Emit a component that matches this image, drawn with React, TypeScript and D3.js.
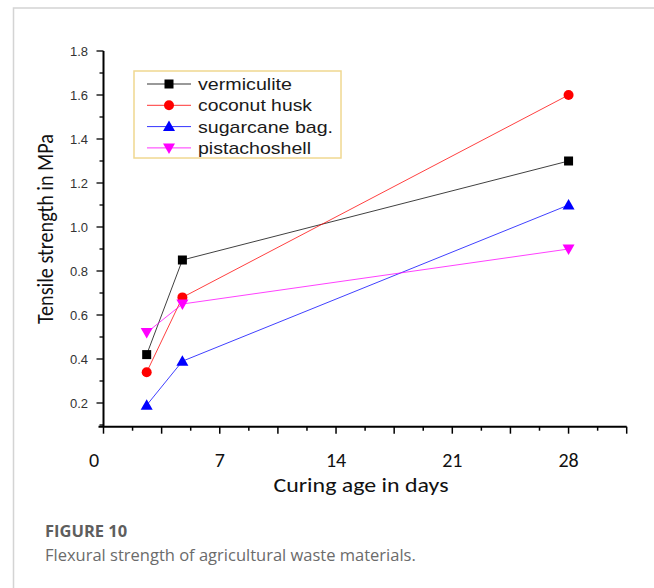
import React from "react";
import * as d3 from "d3";

const W = 654;
const H = 588;

// Curing ages (days) and strengths (MPa) for each material
const days = [2.6, 4.75, 28];
const vermiculite = [0.42, 0.85, 1.3];
const coconutHusk = [0.34, 0.68, 1.6];
const sugarcaneBag = [0.19, 0.39, 1.1];
const pistachioShell = [0.52, 0.65, 0.9];

const seriesNames = ["vermiculite", "coconut husk", "sugarcane bag.", "pistachoshell"];
const seriesColors = ["#000000", "#ff0000", "#0000ff", "#ff00ff"];
const seriesMarkers = ["square", "circle", "triangle", "triangleDown"];

const xTickLabels = [0, 7, 14, 21, 28];
const yTickLabels = [0.2, 0.4, 0.6, 0.8, 1.0, 1.2, 1.4, 1.6, 1.8];

const series = [vermiculite, coconutHusk, sugarcaneBag, pistachioShell];

// plot frame
const left = 103.5;
const right = 626.7;
const top = 51;
const bottom = 426.7;

const y = d3.scaleLinear().domain([0.2, 1.8]).range([403, 51]);
const x = d3.scaleLinear().domain([0, 31.5]).range([left, right]);

// stretched legend label widths
const legendTextWidth = [94, 114, 135, 113];

function Marker({ kind, cx, cy, color }: { kind: string; cx: number; cy: number; color: string }) {
  if (kind === "square") return <rect x={cx - 4.5} y={cy - 4.5} width={9} height={9} fill={color} />;
  if (kind === "circle") return <circle cx={cx} cy={cy} r={5} fill={color} />;
  if (kind === "triangle")
    return <path d={`M${cx},${cy - 6}L${cx + 6},${cy + 4.5}L${cx - 6},${cy + 4.5}Z`} fill={color} />;
  return <path d={`M${cx},${cy + 6}L${cx + 6},${cy - 4.5}L${cx - 6},${cy - 4.5}Z`} fill={color} />;
}

export default function App() {
  const line = d3
    .line<number>()
    .x((_, i) => x(days[i]))
    .y((v) => y(v));

  const yMinor = d3.range(0.1, 1.8001, 0.1);
  const xMinor = d3.range(0, 31.51, 1.75);

  const calibri = "Carlito, 'Open Sans', 'Noto Sans', sans-serif";
  const arial = "'Liberation Sans', Arial, sans-serif";
  const caption = "'Open Sans', 'Noto Sans', sans-serif";

  return (
    <svg width={W} height={H} style={{ position: "absolute", left: 0, top: 0, background: "#fff" }}>
      <rect width={W} height={H} fill="#fff" />
      {/* panel border */}
      <path d={`M13.5,${H}V8H${W}`} fill="none" stroke="#d4d4d4" strokeWidth={1.5} />

      {/* y axis */}
      <line x1={left} x2={left} y1={top} y2={bottom} stroke="#000" strokeWidth={2} />
      {yMinor.map((v, i) => {
        const major = Math.abs(Math.round(v * 10) % 2) === 0;
        return (
          <line
            key={i}
            x1={major ? left - 7 : left - 4}
            x2={left}
            y1={y(v)}
            y2={y(v)}
            stroke="#000"
            strokeWidth={1.3}
          />
        );
      })}
      {yTickLabels.map((v) => (
        <text
          key={v}
          x={88}
          y={y(v)}
          dy="0.35em"
          textAnchor="end"
          fontFamily={arial}
          fontSize={13}
          fill="#333"
        >
          {v.toFixed(1)}
        </text>
      ))}

      {/* x axis */}
      <line x1={left - 5} x2={right} y1={bottom} y2={bottom} stroke="#000" strokeWidth={2} />
      {xMinor.map((v, i) => {
        const major = i % 2 === 0;
        return (
          <line
            key={i}
            x1={x(v)}
            x2={x(v)}
            y1={bottom}
            y2={major ? bottom + 7 : bottom + 4}
            stroke="#000"
            strokeWidth={1.5}
          />
        );
      })}
      {xTickLabels.map((v) => (
        <text
          key={v}
          x={v === 0 ? x(v) - 9.5 : x(v)}
          y={467}
          textAnchor="middle"
          fontFamily={calibri}
          fontSize={20}
          fill="#111"
        >
          {v}
        </text>
      ))}

      <text
        x={361}
        y={491.5}
        textAnchor="middle"
        fontFamily={calibri}
        fontSize={20}
        textLength={175}
        lengthAdjust="spacingAndGlyphs"
        fill="#111"
      >
        Curing age in days
      </text>
      <text
        transform={`translate(52.5,229) rotate(-90)`}
        textAnchor="middle"
        fontFamily={calibri}
        fontSize={21.5}
        textLength={190}
        lengthAdjust="spacingAndGlyphs"
        fill="#111"
      >
        Tensile strength in MPa
      </text>

      {/* series */}
      {series.map((vals, si) => (
        <g key={si}>
          <path d={line(vals) || ""} fill="none" stroke={seriesColors[si]} strokeWidth={1} strokeOpacity={0.75} />
          {vals.map((v, i) => (
            <Marker key={i} kind={seriesMarkers[si]} cx={x(days[i])} cy={y(v)} color={seriesColors[si]} />
          ))}
        </g>
      ))}

      {/* legend */}
      <rect x={134} y={71} width={207} height={87} fill="#fff" stroke="#f0d890" strokeWidth={1.5} />
      {seriesNames.map((name, i) => {
        const ly = 84 + i * 21.3;
        return (
          <g key={name}>
            <line x1={147} x2={191} y1={ly} y2={ly} stroke={seriesColors[i]} strokeWidth={1} strokeOpacity={0.8} />
            <Marker kind={seriesMarkers[i]} cx={169} cy={ly} color={seriesColors[i]} />
            <text
              x={198}
              y={ly}
              dy="0.36em"
              fontFamily={arial}
              fontSize={17}
              textLength={legendTextWidth[i]}
              lengthAdjust="spacingAndGlyphs"
              fill="#1a1a1a"
            >
              {name}
            </text>
          </g>
        );
      })}

      {/* caption */}
      <text x={45} y={536.5} fontFamily={caption} fontSize={16.5} fontWeight={700} fill="#5e5e5e">
        FIGURE 10
      </text>
      <text x={45} y={560.5} fontFamily={caption} fontSize={16.5} fill="#6b6b6b">
        Flexural strength of agricultural waste materials.
      </text>
    </svg>
  );
}
